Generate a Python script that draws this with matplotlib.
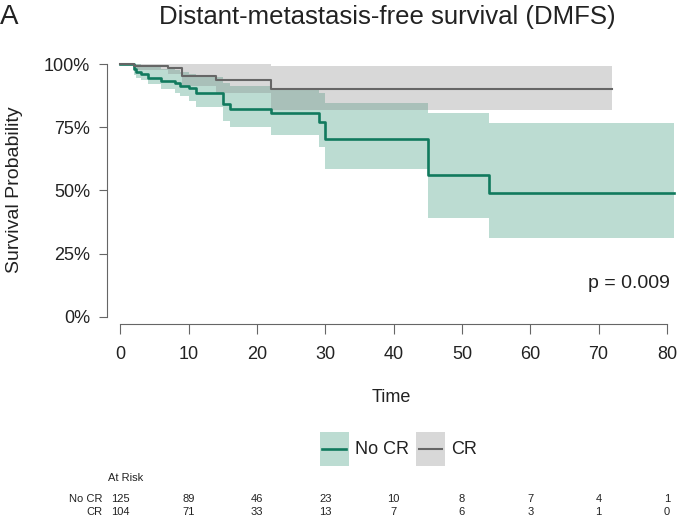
import matplotlib
matplotlib.use("Agg")
import matplotlib.pyplot as plt
from matplotlib.patches import Patch, Rectangle
from matplotlib.lines import Line2D
from matplotlib.legend_handler import HandlerBase
from matplotlib.transforms import blended_transform_factory

plt.rcParams['font.family'] = ['Liberation Sans', 'DejaVu Sans']

# --- Kaplan-Meier estimates ---
# No CR
no_cr_time = [0, 2, 2.3, 3, 4, 6, 8, 8.7, 10, 11, 15, 16, 22, 29, 30, 45, 54, 81]
no_cr_surv = [1.0, 0.980, 0.970, 0.960, 0.943, 0.933, 0.924, 0.914, 0.904, 0.884,
              0.840, 0.822, 0.805, 0.772, 0.702, 0.561, 0.488, 0.488]
no_cr_lower = [1.0, 0.955, 0.945, 0.935, 0.920, 0.900, 0.885, 0.872, 0.855, 0.828,
               0.775, 0.750, 0.719, 0.672, 0.584, 0.390, 0.313, 0.313]
no_cr_upper = [1.0, 1.0, 1.0, 0.995, 0.990, 0.982, 0.975, 0.968, 0.960, 0.950,
               0.925, 0.913, 0.897, 0.885, 0.845, 0.805, 0.766, 0.766]

# CR
cr_time = [0, 2, 7, 9, 14, 22, 72]
cr_surv = [1.0, 0.992, 0.983, 0.954, 0.937, 0.900, 0.900]
cr_lower = [1.0, 0.975, 0.960, 0.915, 0.884, 0.818, 0.818]
cr_upper = [1.0, 1.0, 1.0, 1.0, 0.999, 0.992, 0.992]

# numbers at risk
risk_times = [0, 10, 20, 30, 40, 50, 60, 70, 80]
no_cr_risk = [125, 89, 46, 23, 10, 8, 7, 4, 1]
cr_risk = [104, 71, 33, 13, 7, 6, 3, 1, 0]

x_ticks = [0, 10, 20, 30, 40, 50, 60, 70, 80]
y_ticks = [0, 0.25, 0.5, 0.75, 1.0]
y_labels = ["0%", "25%", "50%", "75%", "100%"]

green_line = "#117a5e"
green_fill = "#238d6c"
grey_line = "#666666"
grey_fill = "#808080"
axis_col = "#666666"
text_col = "#222222"


class BandLineHandler(HandlerBase):
    """Shaded box with the curve's line drawn through its middle."""
    def __init__(self, fill, line, lw):
        super().__init__()
        self.fill, self.line, self.lw = fill, line, lw

    def create_artists(self, legend, orig_handle, xdescent, ydescent,
                       width, height, fontsize, trans):
        rect = Rectangle((-xdescent, -ydescent), width, height,
                         facecolor=self.fill, alpha=0.3, edgecolor='none',
                         transform=trans)
        yc = -ydescent + height / 2
        ln = Line2D([-xdescent + 2, -xdescent + width - 2], [yc, yc],
                    color=self.line, lw=self.lw, transform=trans)
        return [rect, ln]


fig = plt.figure(figsize=(6.77, 5.19), dpi=100)
ax = fig.add_axes([0.1576, 0.3751, 0.8416, 0.5064])

ax.fill_between(no_cr_time, no_cr_lower, no_cr_upper, step='post',
                color=green_fill, alpha=0.3, linewidth=0)
ax.fill_between(cr_time, cr_lower, cr_upper, step='post',
                color=grey_fill, alpha=0.3, linewidth=0)
ax.step(no_cr_time, no_cr_surv, where='post', color=green_line, lw=1.9)
ax.step(cr_time, cr_surv, where='post', color=grey_line, lw=1.5)

ax.set_xlim(-2.02, 81.4)
ax.set_ylim(-0.030, 1.01)

for s in ['top', 'right']:
    ax.spines[s].set_visible(False)
ax.spines['left'].set_bounds(0, 1)
ax.spines['bottom'].set_bounds(0, 80)
for s in ['left', 'bottom']:
    ax.spines[s].set_color(axis_col)
    ax.spines[s].set_linewidth(0.8)

ax.set_xticks(x_ticks)
ax.set_yticks(y_ticks)
ax.set_yticklabels(y_labels)
ax.tick_params(axis='x', length=7.5, width=0.8, color=axis_col, pad=8,
               labelsize=13, labelcolor=text_col)
ax.tick_params(axis='y', length=5.5, width=0.8, color=axis_col, pad=6.5,
               labelsize=13, labelcolor=text_col)

ax.set_xlabel("Time", fontsize=13, color=text_col, labelpad=19)
fig.text(0.022, 0.634, "Survival Probability", rotation=90, ha='center',
         va='center', fontsize=14, color=text_col)

ax.text(80.5, 0.132, "p = 0.009", ha='right', va='center', fontsize=14,
        color=text_col)

fig.text(0.572, 0.967, "Distant-metastasis-free survival (DMFS)", ha='center',
         va='center', fontsize=18.5, color=text_col)
fig.text(0.0, 0.967, "A", ha='left', va='center', fontsize=20, color=text_col)

# legend
h_no_cr = Patch(label="No CR")
h_cr = Patch(label="CR")
fig.legend([h_no_cr, h_cr], ["No CR", "CR"], loc='center',
           bbox_to_anchor=(0.5886, 1 - 449 / 519), ncol=2, frameon=False,
           fontsize=13, handlelength=1.6, handleheight=2.6, handletextpad=0.36,
           columnspacing=0.39, labelcolor=text_col,
           handler_map={h_no_cr: BandLineHandler(green_fill, green_line, 1.9),
                        h_cr: BandLineHandler(grey_fill, grey_line, 1.5)})

# at risk table
tr = blended_transform_factory(ax.transData, fig.transFigure)
fig.text(108 / 677, 1 - 478 / 519, "At Risk", ha='left', va='center',
         fontsize=8, color=text_col)
row_y = [1 - 499 / 519, 1 - 512 / 519]
for lab, vals, yy in [("No CR", no_cr_risk, row_y[0]), ("CR", cr_risk, row_y[1])]:
    ax.text(-2.6, yy, lab, transform=tr, ha='right', va='center',
            fontsize=8, color=text_col)
    for t, v in zip(risk_times, vals):
        ax.text(t, yy, str(v), transform=tr, ha='center', va='center',
                fontsize=8, color=text_col)

fig.savefig("out.png", dpi=100)
